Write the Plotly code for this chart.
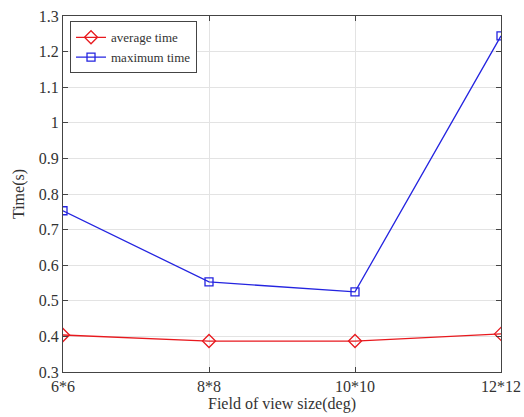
import plotly.graph_objects as go

categories = ["6*6", "8*8", "10*10", "12*12"]
avg_time = [0.404, 0.387, 0.387, 0.407]
max_time = [0.753, 0.553, 0.525, 1.244]
y_ticks = [0.3, 0.4, 0.5, 0.6, 0.7, 0.8, 0.9, 1.0, 1.1, 1.2, 1.3]
y_labels = ["0.3", "0.4", "0.5", "0.6", "0.7", "0.8", "0.9", "1", "1.1", "1.2", "1.3"]

font_family = "Liberation Serif"

fig = go.Figure()
fig.add_trace(go.Scatter(
    x=categories, y=avg_time, mode="lines+markers", name="average time",
    line=dict(color="#e8191e", width=1.3),
    marker=dict(symbol="diamond-open", size=10, color="#e8191e", line=dict(width=1.3)),
))
fig.add_trace(go.Scatter(
    x=categories, y=max_time, mode="lines+markers", name="maximum time",
    line=dict(color="#2424e0", width=1.3),
    marker=dict(symbol="square-open", size=8, color="#2424e0", line=dict(width=1.3)),
))

axis_common = dict(
    showline=True, linecolor="#444444", linewidth=1, mirror="ticks",
    ticks="inside", ticklen=5, tickcolor="#444444",
    showgrid=True, gridcolor="#e3e3e3", gridwidth=1,
    tickfont=dict(family=font_family, size=16, color="#333333"),
    zeroline=False, automargin=False,
)

fig.update_xaxes(
    **axis_common,
    type="category", range=[0, 3],
    title=dict(text="Field of view size(deg)", font=dict(family=font_family, size=16, color="#333333"), standoff=2),
)
fig.update_yaxes(
    **axis_common,
    range=[0.3, 1.3], tickvals=y_ticks, ticktext=y_labels,
    title=dict(text="Time(s)", font=dict(family=font_family, size=16, color="#333333"), standoff=10),
)

fig.update_layout(
    width=524, height=417,
    margin=dict(l=63, r=23, t=16, b=45),
    plot_bgcolor="white", paper_bgcolor="white",
    font=dict(family=font_family, color="#333333"),
    legend=dict(
        x=0.016, y=0.985, xanchor="left", yanchor="top",
        bgcolor="white", bordercolor="#444444", borderwidth=1,
        font=dict(family=font_family, size=13, color="#333333"),
        tracegroupgap=0, itemwidth=30,
    ),
)

fig.write_html(
    "out.html",
    config={"displayModeBar": False},
    post_script="document.body.style.margin='0px';",
)
